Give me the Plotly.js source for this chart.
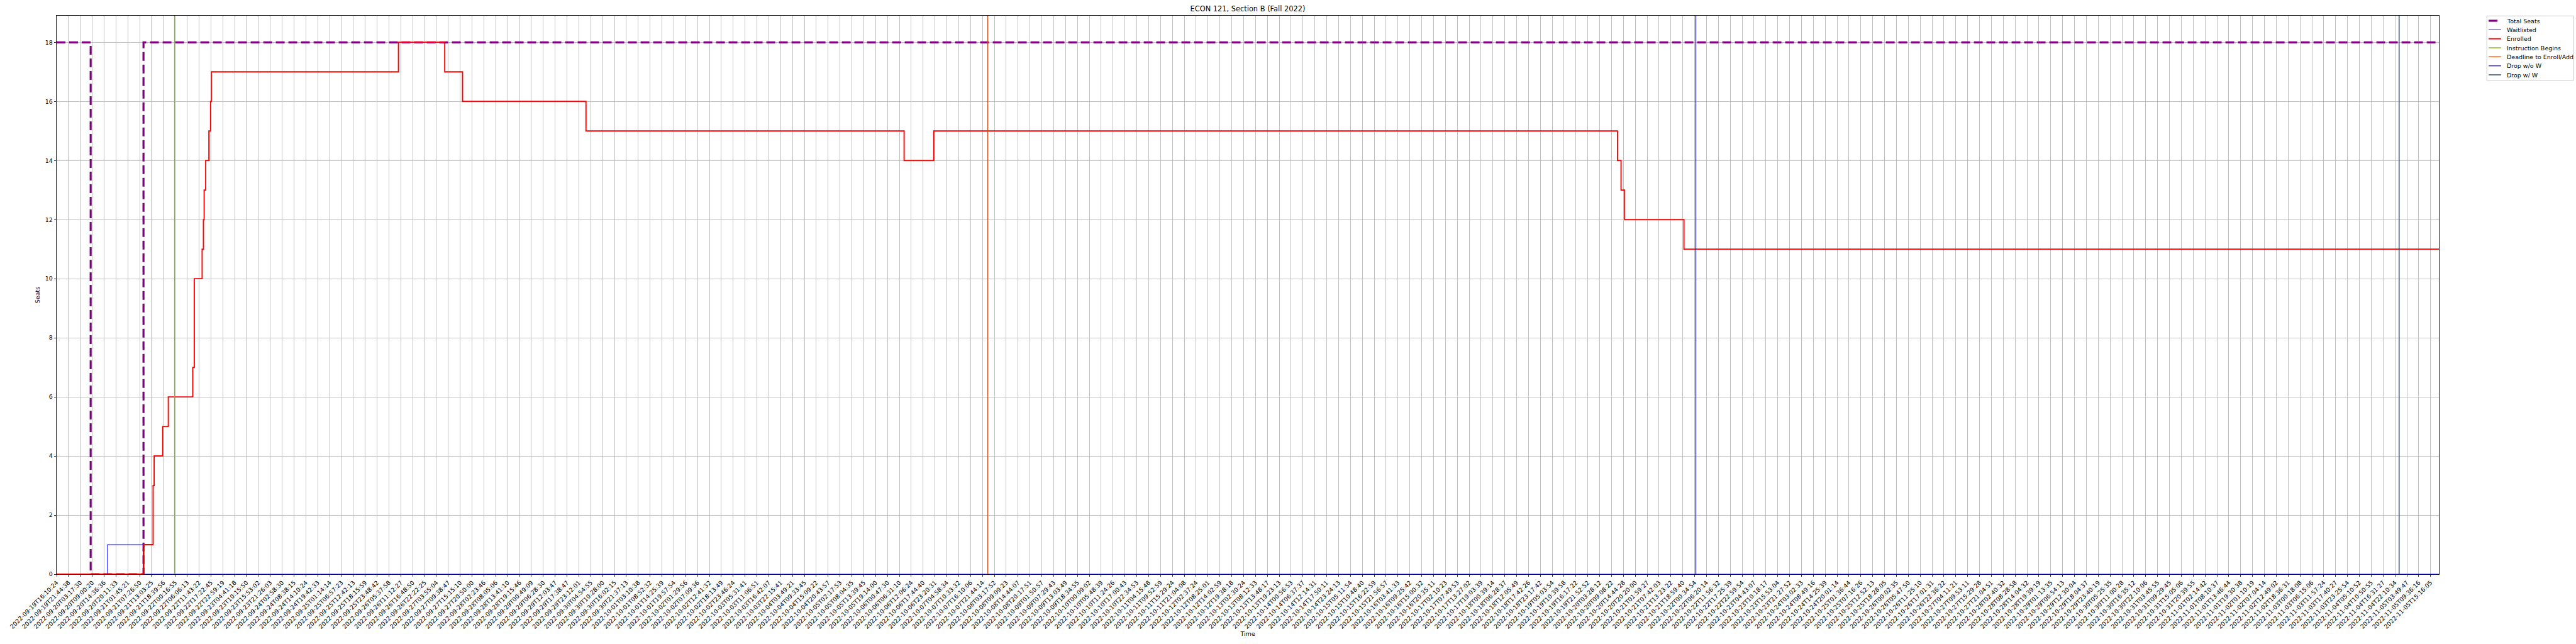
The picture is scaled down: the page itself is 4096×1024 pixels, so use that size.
<!DOCTYPE html>
<html>
<head>
<meta charset="utf-8">
<script src="https://cdn.plot.ly/plotly-3.0.1.min.js"></script>
<style>html,body{margin:0;padding:0;background:#fff;}#chart{width:4096px;height:1024px;}</style>
</head>
<body>
<div id="chart"></div>
<script>
// Tick labels (one every N samples; x positions below are in tick units)
const tickLabels = [
"2022-09-19T16:10:24","2022-09-19T21:44:38","2022-09-20T03:17:30","2022-09-20T09:00:20","2022-09-20T14:36:36",
"2022-09-20T20:11:33","2022-09-21T01:45:21","2022-09-21T07:26:50","2022-09-21T13:03:25","2022-09-21T18:39:56",
"2022-09-22T00:16:55","2022-09-22T06:06:13","2022-09-22T11:43:22","2022-09-22T17:22:45","2022-09-22T22:59:19",
"2022-09-23T04:41:18","2022-09-23T10:15:50","2022-09-23T15:53:02","2022-09-23T21:26:03","2022-09-24T02:58:30",
"2022-09-24T08:38:15","2022-09-24T14:10:24","2022-09-24T19:42:33","2022-09-25T01:14:14","2022-09-25T06:57:23",
"2022-09-25T12:42:13","2022-09-25T18:15:59","2022-09-25T23:48:42","2022-09-26T05:37:58","2022-09-26T11:12:27",
"2022-09-26T16:48:50","2022-09-26T22:22:25","2022-09-27T03:55:04","2022-09-27T09:38:47","2022-09-27T15:15:10",
"2022-09-27T20:50:00","2022-09-28T02:23:46","2022-09-28T08:05:06","2022-09-28T13:41:10","2022-09-28T19:15:46",
"2022-09-29T00:49:09","2022-09-29T06:28:30","2022-09-29T12:03:47","2022-09-29T17:38:47","2022-09-29T23:12:01",
"2022-09-30T04:54:55","2022-09-30T10:28:00","2022-09-30T16:02:15","2022-09-30T21:37:13","2022-10-01T03:10:38",
"2022-10-01T08:52:32","2022-10-01T14:25:39","2022-10-01T19:57:54","2022-10-02T01:29:56","2022-10-02T07:09:36",
"2022-10-02T12:41:32","2022-10-02T18:13:49","2022-10-02T23:46:24","2022-10-03T05:31:41","2022-10-03T11:06:51",
"2022-10-03T16:42:07","2022-10-03T22:15:41","2022-10-04T03:49:21","2022-10-04T09:33:45","2022-10-04T15:09:22",
"2022-10-04T20:43:57","2022-10-05T02:17:53","2022-10-05T08:04:35","2022-10-05T13:39:45","2022-10-05T19:14:00",
"2022-10-06T00:47:30","2022-10-06T06:31:10","2022-10-06T12:06:24","2022-10-06T17:44:40","2022-10-06T23:20:31",
"2022-10-07T04:58:34","2022-10-07T10:33:32","2022-10-07T16:10:06","2022-10-07T21:44:14","2022-10-08T03:17:52",
"2022-10-08T09:09:23","2022-10-08T14:44:07","2022-10-08T20:17:51","2022-10-09T01:50:57","2022-10-09T07:29:43",
"2022-10-09T13:03:49","2022-10-09T18:34:55","2022-10-10T00:09:02","2022-10-10T05:48:39","2022-10-10T11:24:26",
"2022-10-10T17:00:43","2022-10-10T22:34:53","2022-10-11T04:15:48","2022-10-11T09:52:59","2022-10-11T15:29:24",
"2022-10-11T21:04:08","2022-10-12T02:37:24","2022-10-12T08:25:01","2022-10-12T14:02:59","2022-10-12T19:38:18",
"2022-10-13T02:30:24","2022-10-13T08:12:33","2022-10-13T13:48:17","2022-10-13T19:23:13","2022-10-14T00:56:53",
"2022-10-14T06:37:37","2022-10-14T12:14:31","2022-10-14T17:50:11","2022-10-14T23:24:13","2022-10-15T05:11:54",
"2022-10-15T10:48:40","2022-10-15T16:22:59","2022-10-15T21:56:57","2022-10-16T03:41:33","2022-10-16T09:25:42",
"2022-10-16T15:00:32","2022-10-16T20:35:11","2022-10-17T02:10:23","2022-10-17T07:49:53","2022-10-17T13:27:02",
"2022-10-17T19:03:39","2022-10-18T00:39:14","2022-10-18T06:28:37","2022-10-18T12:05:49","2022-10-18T17:42:26",
"2022-10-18T23:17:42","2022-10-19T05:03:54","2022-10-19T10:39:58","2022-10-19T16:17:22","2022-10-19T21:52:52",
"2022-10-20T03:28:12","2022-10-20T09:08:22","2022-10-20T14:44:28","2022-10-20T20:20:00","2022-10-21T01:59:27",
"2022-10-21T07:42:03","2022-10-21T13:23:22","2022-10-21T18:59:40","2022-10-22T00:34:54","2022-10-22T06:20:14",
"2022-10-22T11:56:32","2022-10-22T17:25:39","2022-10-22T22:59:54","2022-10-23T04:43:07","2022-10-23T10:18:17",
"2022-10-23T15:53:04","2022-10-23T21:27:52","2022-10-24T03:02:33","2022-10-24T08:49:16","2022-10-24T14:25:39",
"2022-10-24T20:01:14","2022-10-25T01:36:44","2022-10-25T07:16:26","2022-10-25T12:52:13","2022-10-25T18:28:05",
"2022-10-26T00:02:35","2022-10-26T05:47:50","2022-10-26T11:25:10","2022-10-26T17:01:31","2022-10-26T22:36:22",
"2022-10-27T04:11:21","2022-10-27T09:53:11","2022-10-27T15:29:28","2022-10-27T21:04:51","2022-10-28T02:40:32",
"2022-10-28T08:28:58","2022-10-28T14:04:32","2022-10-28T19:39:19","2022-10-29T01:13:35","2022-10-29T06:54:13",
"2022-10-29T12:30:04","2022-10-29T18:04:37","2022-10-29T23:40:19","2022-10-30T05:25:35","2022-10-30T11:00:28",
"2022-10-30T16:35:12","2022-10-30T22:10:06","2022-10-31T03:45:55","2022-10-31T09:29:45","2022-10-31T15:05:06",
"2022-10-31T20:39:55","2022-11-01T02:14:42","2022-11-01T08:10:37","2022-11-01T13:46:44","2022-11-01T19:30:38",
"2022-11-02T01:10:19","2022-11-02T07:04:14","2022-11-02T12:49:02","2022-11-02T18:36:31","2022-11-03T00:18:08",
"2022-11-03T06:15:06","2022-11-03T11:57:24","2022-11-03T17:40:27","2022-11-03T23:25:54","2022-11-04T05:10:52",
"2022-11-04T10:50:55","2022-11-04T16:31:27","2022-11-04T22:10:34","2022-11-05T03:49:47","2022-11-05T09:36:16",
"2022-11-05T15:16:05"
];
const tickPositions = tickLabels.map((_, i) => i);

// x extent of the data (in tick units)
const xEnd = 200.7;

// Total seats (step changes)
const seatsX = [0, 2.87, 7.32, xEnd];
const seatsY = [18, 0, 18, 18];

// Waitlisted (step changes)
const waitX = [0, 4.28, 7.29, xEnd];
const waitY = [0, 1, 0, 0];

// Enrolled (step changes)
const enrolledX = [0, 7.35, 8.13, 8.22, 8.94, 9.41, 11.47, 11.6, 12.26, 12.37, 12.43, 12.56, 12.83, 12.97, 13.03,
                   28.8, 32.7, 34.2, 44.6, 71.4, 73.9, 131.5, 131.8, 132.1, 137.1, xEnd];
const enrolledY = [0, 1, 3, 4, 5, 6, 7, 10, 11, 12, 13, 14, 15, 16, 17,
                   18, 17, 16, 15, 14, 15, 14, 13, 12, 11, 11];

// Academic calendar events (positions in tick units)
const eventNames = ["Instruction Begins", "Deadline to Enroll/Add", "Drop w/o W", "Drop w/ W"];
const eventX = [9.94, 78.45, 138.1, 197.35];
const eventColors = ["#8ab41e", "#c9501e", "#2e2878", "#2c3a5a"];

const yTop = 18.9;
const font = "DejaVu Sans, Liberation Sans, sans-serif";

const traces = [
  {x: seatsX, y: seatsY, name: "Total Seats", mode: "lines", line: {shape: "hv", color: "#800080", width: 3.2, dash: "14px,6px"}},
  {x: waitX, y: waitY, name: "Waitlisted", mode: "lines", line: {shape: "hv", color: "#0000ff", width: 1}},
  {x: enrolledX, y: enrolledY, name: "Enrolled", mode: "lines", line: {shape: "hv", color: "#ff0000", width: 1.9}}
];
eventNames.forEach((n, i) => {
  traces.push({x: [eventX[i], eventX[i]], y: [0, yTop], name: n, mode: "lines", line: {color: eventColors[i], width: 1.4}});
});

// Plot-area geometry (pixels) for the hand-drawn legend outside the axes
const W = 4096, H = 1024;
const M = {l: 90, r: 217.5, t: 25.4, b: 110.8};
const PW = W - M.l - M.r, PH = H - M.t - M.b;
const px2x = p => (p - M.l) / PW;
const py2y = p => 1 - (p - M.t) / PH;

const shapes = [];
const annotations = [];
// legend frame
shapes.push({type: "rect", xref: "paper", yref: "paper", x0: px2x(3954.7), x1: px2x(4093), y0: py2y(25.7), y1: py2y(128.3),
             line: {color: "#cccccc", width: 1}, fillcolor: "rgba(255,255,255,0.8)", layer: "above"});
traces.forEach((t, i) => {
  const cy = 33.4 + i * 14.33;
  const x1 = i === 0 ? 3971.7 : 3977.4;
  shapes.push({type: "line", xref: "paper", yref: "paper", x0: px2x(3957.6), x1: px2x(x1), y0: py2y(cy), y1: py2y(cy),
               line: {color: t.line.color, width: t.line.width}, layer: "above"});
  annotations.push({xref: "paper", yref: "paper", x: px2x(3984.2), y: py2y(cy), xanchor: "left", yanchor: "middle",
                    text: t.name, showarrow: false, font: {family: font, size: 9.5, color: "#000"}});
});

const layout = {
  width: W, height: H,
  paper_bgcolor: "#fff", plot_bgcolor: "#fff",
  font: {family: font, size: 9.5, color: "#000"},
  margin: {l: M.l, r: M.r, t: M.t, b: M.b, pad: 0},
  title: {text: "ECON 121, Section B (Fall 2022)", font: {family: font, size: 11.4, color: "#000"},
          x: 0.5, xref: "paper", y: 1 - 14.5/1024, yref: "container", yanchor: "middle"},
  showlegend: false,
  shapes: shapes,
  annotations: annotations,
  xaxis: {
    range: [0, xEnd], tickmode: "array", tickvals: tickPositions, ticktext: tickLabels,
    tickangle: -45, ticks: "outside", ticklen: 3.3, tickwidth: 0.8, tickcolor: "#000",
    showgrid: true, gridcolor: "#b0b0b0", gridwidth: 0.8,
    showline: true, linecolor: "#000", linewidth: 0.9, mirror: true, zeroline: false,
    tickfont: {family: font, size: 9.5, color: "#000"},
    title: {text: "Time", font: {family: font, size: 9.5, color: "#000"}, standoff: 3},
    automargin: false
  },
  yaxis: {
    range: [0, yTop], tick0: 0, dtick: 2, ticks: "outside", ticklen: 3.3, tickwidth: 0.8, tickcolor: "#000",
    showgrid: true, gridcolor: "#b0b0b0", gridwidth: 0.8,
    showline: true, linecolor: "#000", linewidth: 0.9, mirror: true, zeroline: false,
    tickfont: {family: font, size: 9.5, color: "#000"},
    title: {text: "Seats", font: {family: font, size: 9.5, color: "#000"}, standoff: 6},
    automargin: false
  }
};

Plotly.newPlot("chart", traces, layout, {staticPlot: true, displayModeBar: false});
</script>
</body>
</html>
